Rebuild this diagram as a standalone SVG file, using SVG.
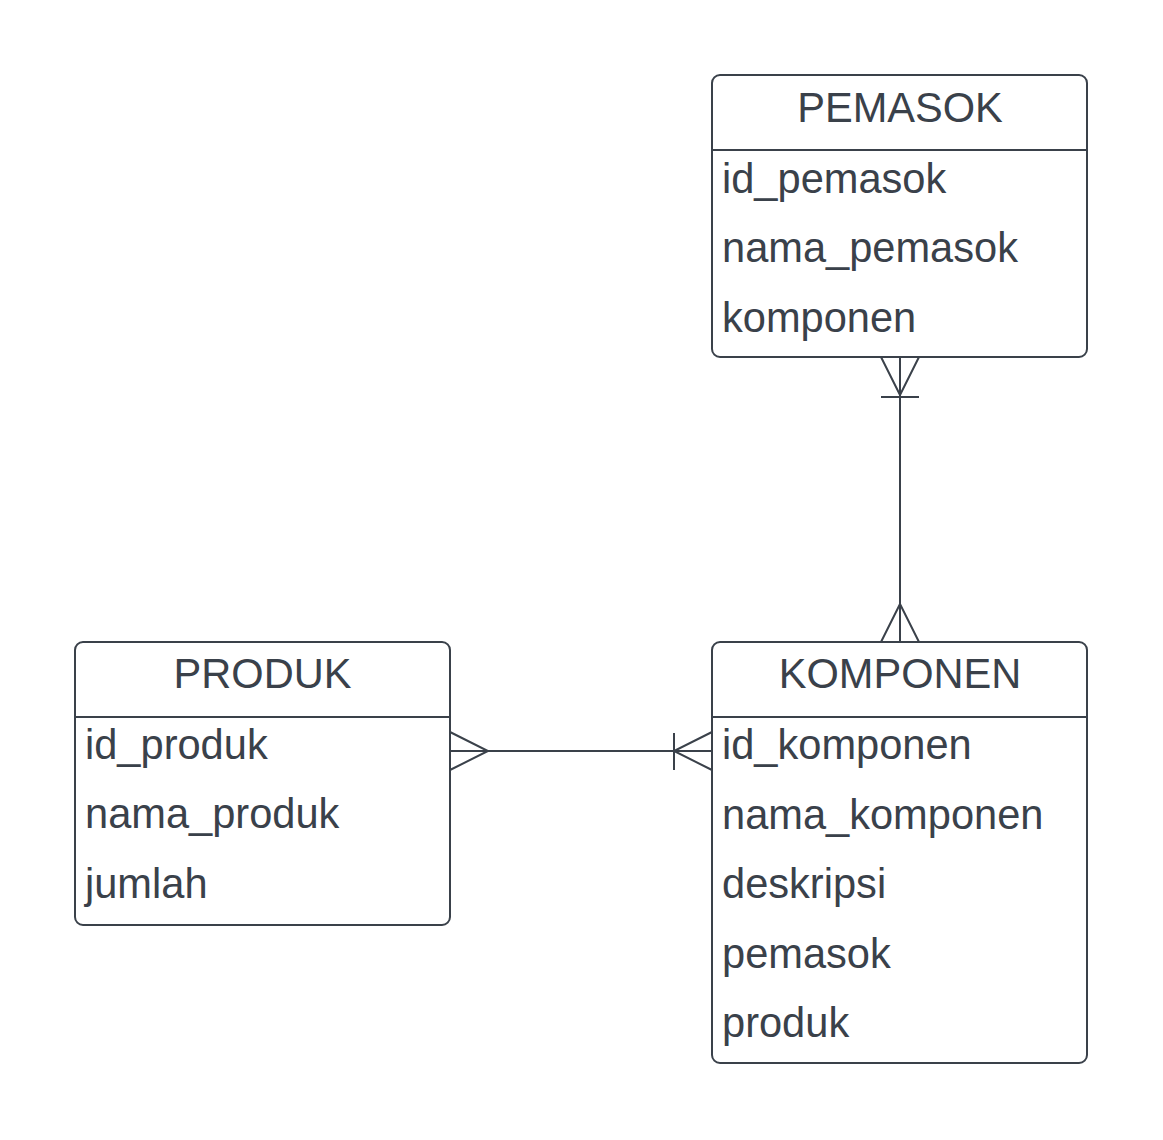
<svg xmlns="http://www.w3.org/2000/svg" width="1163" height="1140" viewBox="0 0 1163 1140">
<style>
.box{fill:#ffffff;stroke:#3a414a;stroke-width:2}
.sep{stroke:#3a414a;stroke-width:2}
.t{font-family:"Liberation Sans",Arial,sans-serif;font-size:41.6px;fill:#3a414a}
.h{text-anchor:middle}
.c{fill:none;stroke:#3a414a;stroke-width:2}
</style>
<rect width="1163" height="1140" fill="#ffffff"/>
<g id="connectors">
<path class="c" d="M900 357 V642"/>
<path class="c" d="M881 357 L900 395 L919 357 M881 397 H919"/>
<path class="c" d="M881 642 L900 604 L919 642"/>
<path class="c" d="M450 751 H712"/>
<path class="c" d="M450 732 L488 751 L450 770"/>
<path class="c" d="M712 732 L674 751 L712 770 M674 733 V770"/>
</g>
<g id="pemasok">
<rect class="box" x="712" y="75" width="375" height="282" rx="8"/>
<line class="sep" x1="712" y1="150" x2="1087" y2="150"/>
<text class="t h" x="900" y="122">PEMASOK</text>
<text class="t" x="722" y="193">id_pemasok</text>
<text class="t" x="722" y="262">nama_pemasok</text>
<text class="t" x="722" y="332">komponen</text>
</g>
<g id="produk">
<rect class="box" x="75" y="642" width="375" height="283" rx="8"/>
<line class="sep" x1="75" y1="717" x2="450" y2="717"/>
<text class="t h" x="262.5" y="688">PRODUK</text>
<text class="t" x="85" y="759">id_produk</text>
<text class="t" x="85" y="828">nama_produk</text>
<text class="t" x="85" y="898">jumlah</text>
</g>
<g id="komponen">
<rect class="box" x="712" y="642" width="375" height="421" rx="8"/>
<line class="sep" x1="712" y1="717" x2="1087" y2="717"/>
<text class="t h" x="900" y="688">KOMPONEN</text>
<text class="t" x="722" y="759">id_komponen</text>
<text class="t" x="722" y="829">nama_komponen</text>
<text class="t" x="722" y="898">deskripsi</text>
<text class="t" x="722" y="968">pemasok</text>
<text class="t" x="722" y="1037">produk</text>
</g>
</svg>
